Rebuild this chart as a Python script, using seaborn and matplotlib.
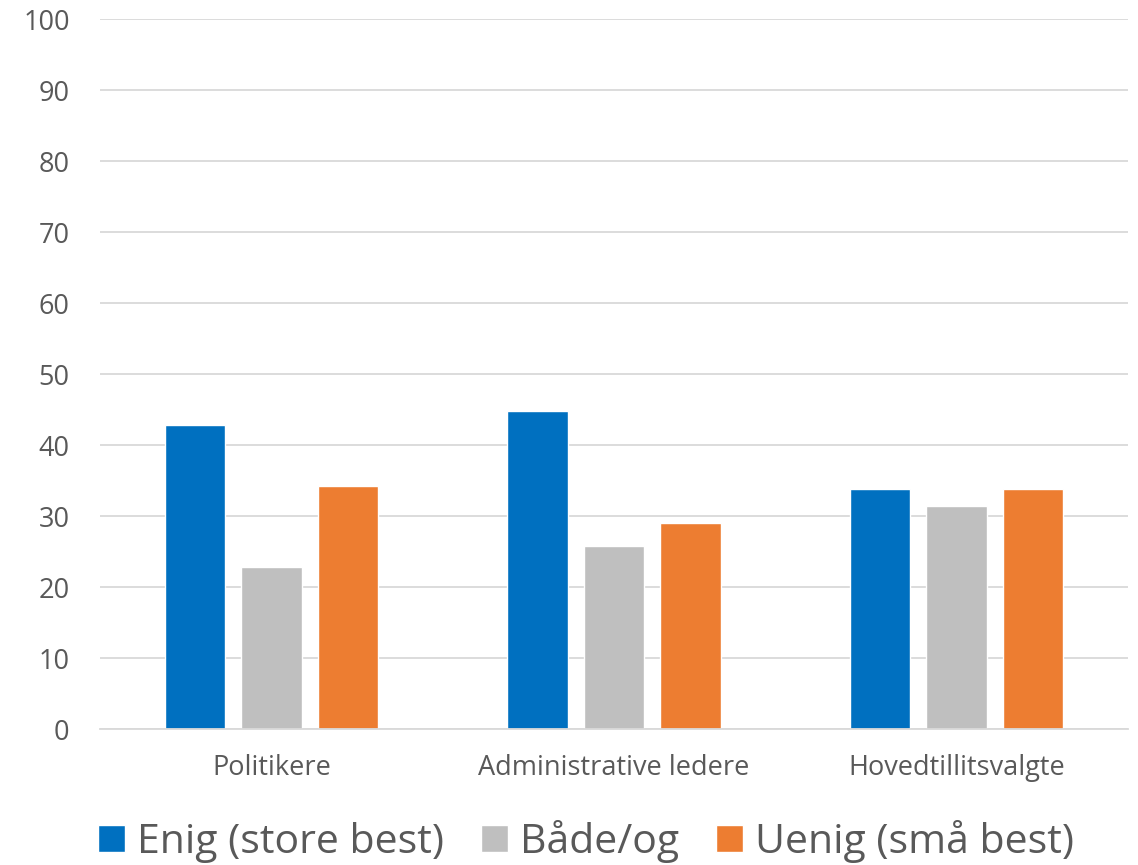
import matplotlib
matplotlib.use("Agg")
import matplotlib.pyplot as plt
import seaborn as sns
import pandas as pd

categories = ["Politikere", "Administrative ledere", "Hovedtillitsvalgte"]
series = ["Enig (store best)", "Både/og", "Uenig (små best)"]
enig = [42.8, 44.8, 33.8]
baade = [22.8, 25.8, 31.4]
uenig = [34.2, 29.1, 33.8]
colors = ["#0070C0", "#BFBFBF", "#ED7D31"]

df = pd.DataFrame({
    "kategori": categories * 3,
    "serie": [series[0]] * 3 + [series[1]] * 3 + [series[2]] * 3,
    "verdi": enig + baade + uenig,
})

sns.set_style("white")
plt.rcParams["font.family"] = ["Open Sans", "DejaVu Sans"]
text_col = "#595959"

fig = plt.figure(figsize=(11.38, 8.65), dpi=100)
ax = fig.add_axes([0.088, 0.157, 0.903, 0.821])

sns.barplot(data=df, x="kategori", y="verdi", hue="serie", order=categories,
            hue_order=series, palette=colors, width=0.67, gap=0.21,
            saturation=1, ax=ax, legend=True)

ax.set_ylim(0, 100)
ax.set_xlim(-0.5, 2.5)
ax.set_yticks(range(0, 101, 10))
ax.yaxis.grid(True, color="#D9D9D9", linewidth=1.3)
ax.set_axisbelow(True)
for s in ["top", "right", "left"]:
    ax.spines[s].set_visible(False)
ax.spines["bottom"].set_color("#D9D9D9")
ax.spines["bottom"].set_linewidth(1.3)
ax.tick_params(axis="y", length=0, labelsize=19.5, labelcolor=text_col, pad=22)
ax.tick_params(axis="x", length=0, labelsize=19.5, labelcolor=text_col, pad=18)
ax.set_xlabel("")
ax.set_ylabel("")

handles, labels = ax.get_legend_handles_labels()
ax.legend(handles, labels, loc="lower center", bbox_to_anchor=(0.473, -0.24),
          ncol=3, frameon=False, fontsize=29.5, labelcolor=text_col,
          handlelength=0.65, handleheight=0.65, handletextpad=0.3, columnspacing=0.9)

fig.savefig("out.png", dpi=100)
